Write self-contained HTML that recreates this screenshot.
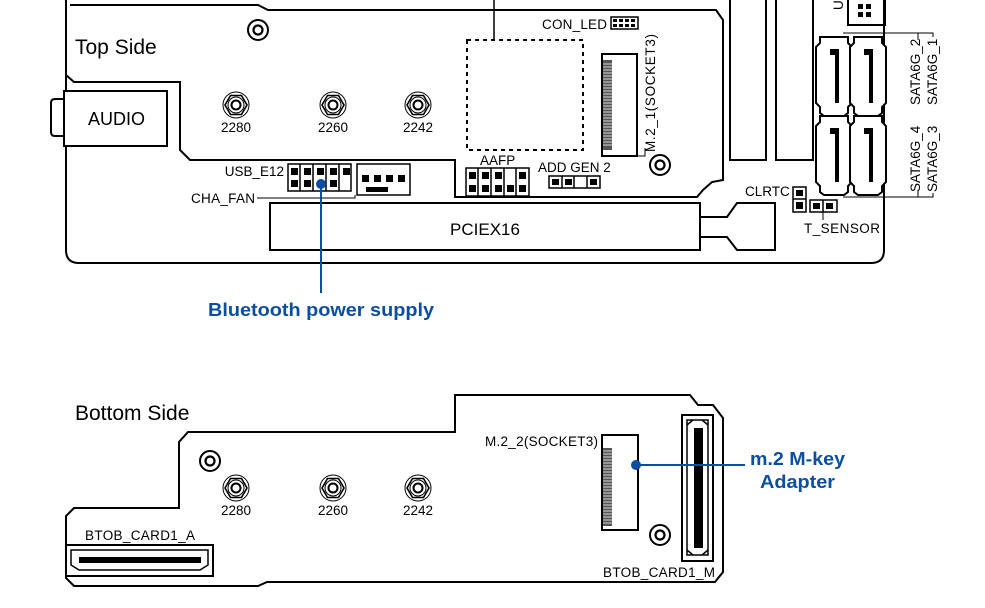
<!DOCTYPE html>
<html><head><meta charset="utf-8"><style>
html,body{margin:0;padding:0;background:#fff;}
svg{display:block;font-family:"Liberation Sans",Arial,sans-serif;}
</style></head><body>
<svg width="985" height="608" viewBox="0 0 985 608" xmlns="http://www.w3.org/2000/svg">
<defs>
<g id="so"><circle r="13" fill="#fff" stroke="#000" stroke-width="1"/><polygon points="-11,0 -5.5,-9.5 5.5,-9.5 11,0 5.5,9.5 -5.5,9.5" fill="none" stroke="#000" stroke-width="1.6"/><circle r="8" fill="none" stroke="#000" stroke-width="1"/><circle r="4.5" fill="none" stroke="#000" stroke-width="2"/></g>
<g id="sc"><circle r="10" fill="#fff" stroke="#000" stroke-width="2"/><circle r="4.5" fill="none" stroke="#000" stroke-width="2.2"/></g>
<g id="sata"><path d="M2,0 H30 V6 L34,10 V66 L30,70 V76 L26,79 H6 L2,76 V70 L-2,66 V10 L2,6 Z" fill="#fff" stroke="#000" stroke-width="2"/><path d="M12,12 H21 V66 H17 V18 H12 Z" fill="#000"/></g>
</defs>
<g fill="none" stroke="#000" stroke-width="2">
<path d="M66,0 V250 Q66,263 79,263 H871 Q884,263 884,250 V0"/>
<path d="M70,5 H258 L268,10 H716 L723,20 V180 L712,182 L703,190 L697,197 H455 V160 H190 L180,150 V82 H74 L66,75"/>
<rect x="64" y="91" width="103" height="55" fill="#fff"/>
<path d="M64,99 H55 Q51,99 51,103 V132 Q51,136 55,136 H64"/>
<rect x="467" y="40" width="116" height="110" stroke-dasharray="4,4"/>
<line x1="494" y1="0" x2="494" y2="40" stroke-width="1.5"/>
<rect x="602" y="54" width="35" height="102"/>
<path d="M637,156 H645 V148" stroke-width="1"/>
<rect x="270" y="203" width="430" height="47"/>
<path d="M700,217 H727 L737,203 H775 V250 H737 L727,237 H700"/>
<path d="M730,0 V160 H766 V0 M776,0 V160 H813 V0"/>
<path d="M848,0 V25 H885 V0" />
<rect x="288" y="164" width="63" height="27" stroke-width="1.5"/>
<path d="M300,164 V191 M313,164 V191 M326,164 V191 M339,164 V191" stroke-width="1.5"/>
<rect x="357" y="164" width="53" height="31" stroke-width="1.5"/>
<path d="M257,198 H355 V195" stroke-width="1"/>
<rect x="466" y="168" width="63" height="28" stroke-width="1.5"/>
<path d="M478,168 V196 M491,168 V196 M504,168 V196 M516,168 V196" stroke-width="1.5"/>
<rect x="549" y="176" width="51" height="12" stroke-width="1.5"/>
<path d="M562,176 V188 M574,176 V188 M587,176 V188" stroke-width="1.5"/>
<rect x="611" y="17" width="27" height="12" stroke-width="1.5"/>
<rect x="793" y="187" width="13" height="25" stroke-width="1.5"/><line x1="793" y1="199" x2="806" y2="199" stroke-width="1.5"/>
<rect x="810" y="200" width="27" height="12" stroke-width="1.5"/><line x1="823" y1="200" x2="823" y2="212" stroke-width="1.5"/>
<line x1="823" y1="212" x2="823" y2="220" stroke-width="1"/>
<path d="M843,33 H933 V37 M918,33 V40 M843,197 H933 V193 M918,197 V190" stroke-width="1"/>
</g>
<g fill="#000">
<rect x="291" y="168" width="7" height="7"/><rect x="304" y="168" width="7" height="7"/><rect x="317" y="168" width="7" height="7"/><rect x="330" y="168" width="7" height="7"/><rect x="343" y="168" width="7" height="7"/>
<rect x="291" y="180" width="7" height="7"/><rect x="304" y="180" width="7" height="7"/><rect x="330" y="180" width="7" height="7"/>
<rect x="362" y="175" width="7" height="7"/><rect x="374" y="175" width="7" height="7"/><rect x="386" y="175" width="7" height="7"/><rect x="398" y="175" width="7" height="7"/>
<rect x="366" y="187" width="22" height="5"/>
<rect x="469" y="172" width="7" height="7"/><rect x="482" y="172" width="7" height="7"/><rect x="495" y="172" width="7" height="7"/><rect x="519" y="172" width="7" height="7"/>
<rect x="469" y="185" width="7" height="7"/><rect x="482" y="185" width="7" height="7"/><rect x="495" y="185" width="7" height="7"/><rect x="507" y="185" width="7" height="7"/><rect x="519" y="185" width="7" height="7"/>
<rect x="552" y="179" width="7" height="6"/><rect x="565" y="179" width="7" height="6"/><rect x="590" y="179" width="7" height="6"/>
<rect x="613" y="19" width="4" height="3"/><rect x="619" y="19" width="4" height="3"/><rect x="625" y="19" width="4" height="3"/><rect x="631" y="19" width="4" height="3"/>
<rect x="613" y="24" width="4" height="3"/><rect x="619" y="24" width="4" height="3"/><rect x="625" y="24" width="4" height="3"/><rect x="631" y="24" width="4" height="3"/>
<rect x="796" y="190" width="7" height="6"/><rect x="796" y="202" width="7" height="7"/>
<rect x="813" y="203" width="7" height="6"/><rect x="826" y="203" width="7" height="6"/>
<rect x="858" y="4" width="5" height="5"/><rect x="866" y="4" width="5" height="5"/><rect x="858" y="12" width="5" height="5"/><rect x="866" y="12" width="5" height="5"/>
<rect x="603" y="60" width="9" height="90" fill="#555"/>
</g>
<g stroke="#fff" stroke-width="0.7"><path d="M603,64 H612 M603,67 H612 M603,70 H612 M603,73 H612 M603,76 H612 M603,79 H612 M603,82 H612 M603,85 H612 M603,88 H612 M603,91 H612 M603,94 H612 M603,97 H612 M603,100 H612 M603,103 H612 M603,106 H612 M603,109 H612 M603,112 H612 M603,115 H612 M603,118 H612 M603,121 H612 M603,124 H612 M603,127 H612 M603,130 H612 M603,133 H612 M603,136 H612 M603,139 H612 M603,142 H612 M603,145 H612"/></g>
<use href="#sata" x="818" y="37"/><use href="#sata" x="852" y="37"/>
<use href="#sata" x="818" y="116"/><use href="#sata" x="852" y="116"/>
<use href="#sc" x="258" y="30"/><use href="#sc" x="660" y="165"/>
<use href="#so" x="236" y="105"/><use href="#so" x="333" y="105"/><use href="#so" x="418" y="105"/>
<g font-size="13.5" fill="#000">
<text x="75" y="54" font-size="21">Top Side</text>
<text x="88" y="125" font-size="18">AUDIO</text>
<text x="236" y="132" text-anchor="middle">2280</text>
<text x="333" y="132" text-anchor="middle">2260</text>
<text x="418" y="132" text-anchor="middle">2242</text>
<text x="542" y="29" textLength="65">CON_LED</text>
<text x="480" y="165">AAFP</text>
<text x="538" y="172">ADD GEN 2</text>
<text x="284" y="176" text-anchor="end">USB_E12</text>
<text x="191" y="203" textLength="64">CHA_FAN</text>
<text x="485" y="235" font-size="17" text-anchor="middle">PCIEX16</text>
<text x="745" y="196">CLRTC</text>
<text x="804" y="233" textLength="76">T_SENSOR</text>
<text transform="translate(655,152) rotate(-90)" textLength="118">M.2_1(SOCKET3)</text>
<text transform="translate(920,192) rotate(-90)">SATA6G_4</text>
<text transform="translate(937,192) rotate(-90)">SATA6G_3</text>
<text transform="translate(920,105) rotate(-90)">SATA6G_2</text>
<text transform="translate(937,105) rotate(-90)">SATA6G_1</text>
<text transform="translate(843,10) rotate(-90)">U</text>
</g>
<line x1="321" y1="184" x2="321" y2="293" stroke="#0b4ea2" stroke-width="2"/>
<circle cx="321" cy="184" r="5" fill="#0b4ea2"/>
<text x="208" y="316" font-size="18" font-weight="bold" fill="#0b4ea2" textLength="226" lengthAdjust="spacingAndGlyphs">Bluetooth power supply</text>

<text x="75" y="420" font-size="21">Bottom Side</text>
<g fill="none" stroke="#000" stroke-width="2">
<path d="M74,508 H179 V442 L188,432 H455 V395 H690 L698,405 H713 L723,418 V572 L715,582 H267 L258,586 H74 L66,578 V516 Z"/>
<rect x="66" y="545" width="147" height="31"/>
<path d="M71,550 H208 V565 L200,570 H79 L71,565 Z" stroke-width="1.5"/>
<rect x="602" y="435" width="36" height="95"/>
<rect x="682" y="415" width="31" height="146"/>
<path d="M687,420 H708 V555 H687 Z M687,425 L693,420 M708,425 L702,420 M687,550 L693,555 M708,550 L702,555" stroke-width="1.5"/>
</g>
<rect x="79" y="557" width="122" height="6" fill="#000"/>
<rect x="694" y="428" width="9" height="120" fill="#000"/>
<rect x="603" y="448" width="9" height="78" fill="#555"/>
<g stroke="#fff" stroke-width="0.7"><path d="M603,451 H612 M603,454 H612 M603,457 H612 M603,460 H612 M603,463 H612 M603,466 H612 M603,469 H612 M603,472 H612 M603,475 H612 M603,478 H612 M603,481 H612 M603,484 H612 M603,487 H612 M603,490 H612 M603,493 H612 M603,496 H612 M603,499 H612 M603,502 H612 M603,505 H612 M603,508 H612 M603,511 H612 M603,514 H612 M603,517 H612 M603,520 H612 M603,523 H612"/></g>
<use href="#sc" x="210" y="461"/><use href="#sc" x="660" y="535"/>
<use href="#so" x="236" y="488"/><use href="#so" x="333" y="488"/><use href="#so" x="418" y="488"/>
<g font-size="13.5" fill="#000">
<text x="236" y="515" text-anchor="middle">2280</text>
<text x="333" y="515" text-anchor="middle">2260</text>
<text x="418" y="515" text-anchor="middle">2242</text>
<text x="85" y="540" textLength="110">BTOB_CARD1_A</text>
<text x="485" y="446" textLength="113">M.2_2(SOCKET3)</text>
<text x="603" y="577" textLength="112">BTOB_CARD1_M</text>
</g>
<line x1="636" y1="465" x2="745" y2="465" stroke="#0b4ea2" stroke-width="2"/>
<circle cx="636" cy="465" r="5" fill="#0b4ea2"/>
<text x="750" y="465" font-size="18" font-weight="bold" fill="#0b4ea2" textLength="95" lengthAdjust="spacingAndGlyphs">m.2 M-key</text>
<text x="760" y="488" font-size="18" font-weight="bold" fill="#0b4ea2" textLength="75" lengthAdjust="spacingAndGlyphs">Adapter</text>
</svg>
</body></html>
